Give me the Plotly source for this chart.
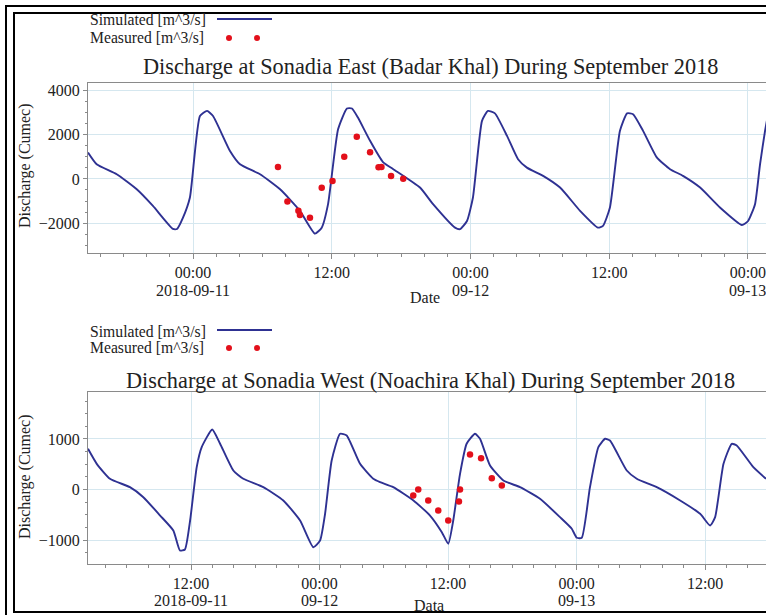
import plotly.graph_objects as go

# ---------------- data ----------------
top_sim_time = [
    "2018-09-10 14:55", "2018-09-10 15:40", "2018-09-10 17:24", "2018-09-10 19:08",
    "2018-09-10 20:32", "2018-09-10 22:16", "2018-09-10 22:37", "2018-09-10 23:08",
    "2018-09-10 23:44", "2018-09-11 00:36", "2018-09-11 01:13", "2018-09-11 01:44",
    "2018-09-11 03:12", "2018-09-11 04:04", "2018-09-11 05:48", "2018-09-11 07:32",
    "2018-09-11 09:15", "2018-09-11 10:33", "2018-09-11 11:08", "2018-09-11 11:41",
    "2018-09-11 12:33", "2018-09-11 13:19", "2018-09-11 13:45", "2018-09-11 14:16",
    "2018-09-11 15:19", "2018-09-11 16:26", "2018-09-11 17:18", "2018-09-11 19:38",
    "2018-09-11 20:46", "2018-09-11 22:40", "2018-09-11 23:06", "2018-09-11 23:42",
    "2018-09-12 00:13", "2018-09-12 01:00", "2018-09-12 01:31", "2018-09-12 02:07",
    "2018-09-12 03:10", "2018-09-12 04:07", "2018-09-12 04:53", "2018-09-12 06:17",
    "2018-09-12 07:45", "2018-09-12 09:29", "2018-09-12 11:02", "2018-09-12 11:28",
    "2018-09-12 12:04", "2018-09-12 12:56", "2018-09-12 13:33", "2018-09-12 14:04",
    "2018-09-12 14:56", "2018-09-12 16:08", "2018-09-12 17:16", "2018-09-12 18:23",
    "2018-09-12 19:52", "2018-09-12 21:35", "2018-09-12 23:29", "2018-09-13 00:01",
    "2018-09-13 00:37", "2018-09-13 01:03", "2018-09-13 01:29", "2018-09-13 01:40",
]
top_sim_q = [
    1190, 660, 210, -470,
    -1220, -2260, -2260, -1750,
    -840, 2840, 3070, 2840,
    1260, 660, 210, -470,
    -1440, -2470, -2200, -1140,
    2240, 3180, 3180, 2770,
    1720, 760, 450, -390,
    -1140, -2200, -2270, -1900,
    -840, 2620, 3070, 2960,
    1940, 890, 510, 140,
    -390, -1440, -2200, -2120,
    -1290, 2170, 2960, 2920,
    2170, 960, 440, 140,
    -390, -1290, -2080, -1900,
    -1140, 660, 2170, 2700,
]
top_meas_time = [
    "2018-09-11 07:21", "2018-09-11 08:10", "2018-09-11 09:07", "2018-09-11 09:15",
    "2018-09-11 10:07", "2018-09-11 11:08", "2018-09-11 12:04", "2018-09-11 13:05",
    "2018-09-11 14:10", "2018-09-11 15:19", "2018-09-11 16:03", "2018-09-11 16:18",
    "2018-09-11 17:08", "2018-09-11 18:11",
]
top_meas_q = [540, -1020, -1440, -1630, -1750, -400, -100, 1000, 1900, 1200, 530, 540, 130, 10]

bot_sim_time = [
    "2018-09-11 02:23", "2018-09-11 03:12", "2018-09-11 04:26", "2018-09-11 06:18",
    "2018-09-11 07:33", "2018-09-11 09:07", "2018-09-11 10:21", "2018-09-11 10:58",
    "2018-09-11 11:26", "2018-09-11 11:55", "2018-09-11 12:32", "2018-09-11 13:00",
    "2018-09-11 13:59", "2018-09-11 14:43", "2018-09-11 15:57", "2018-09-11 16:53",
    "2018-09-11 18:45", "2018-09-11 20:37", "2018-09-11 22:11", "2018-09-11 23:25",
    "2018-09-12 00:03", "2018-09-12 00:31", "2018-09-12 01:08", "2018-09-12 01:55",
    "2018-09-12 02:32", "2018-09-12 03:47", "2018-09-12 05:01", "2018-09-12 05:39",
    "2018-09-12 06:53", "2018-09-12 08:46", "2018-09-12 10:19", "2018-09-12 11:25",
    "2018-09-12 12:01", "2018-09-12 12:29", "2018-09-12 13:07", "2018-09-12 13:44",
    "2018-09-12 14:31", "2018-09-12 14:59", "2018-09-12 15:55", "2018-09-12 17:10",
    "2018-09-12 18:43", "2018-09-12 20:35", "2018-09-12 22:27", "2018-09-12 23:33",
    "2018-09-13 00:01", "2018-09-13 00:29", "2018-09-13 01:15", "2018-09-13 02:02",
    "2018-09-13 02:40", "2018-09-13 03:07", "2018-09-13 04:41", "2018-09-13 05:37",
    "2018-09-13 07:29", "2018-09-13 09:40", "2018-09-13 11:32", "2018-09-13 12:28",
    "2018-09-13 12:56", "2018-09-13 13:43", "2018-09-13 14:29", "2018-09-13 14:57",
    "2018-09-13 16:30", "2018-09-13 17:41",
]
bot_sim_q = [
    805, 508, 212, 46,
    -152, -515, -812, -1208,
    -1188, -614, 442, 838,
    1188, 905, 376, 212,
    46, -218, -614, -1143,
    -1010, -481, 574, 1103,
    1069, 508, 212, 145,
    46, -218, -515, -845,
    -1075, -614, 310, 905,
    1103, 1004, 475, 178,
    46, -184, -548, -778,
    -956, -956, 46, 838,
    1004, 970, 376, 212,
    46, -218, -481, -713,
    -548, 508, 905, 871,
    442, 212,
]
bot_meas_time = [
    "2018-09-12 08:45", "2018-09-12 09:13", "2018-09-12 10:09", "2018-09-12 11:05",
    "2018-09-12 12:01", "2018-09-12 13:01", "2018-09-12 13:07", "2018-09-12 14:03",
    "2018-09-12 15:05", "2018-09-12 16:05", "2018-09-12 17:01",
]
bot_meas_q = [-119, 0, -218, -416, -614, -238, 0, 693, 620, 224, 79]

top_tickvals = ["2018-09-11 00:00", "2018-09-11 12:00", "2018-09-12 00:00",
                "2018-09-12 12:00", "2018-09-13 00:00"]
top_ticktext = ["00:00", "12:00", "00:00", "12:00", "00:00"]
top_datevals = ["2018-09-11 00:00", "2018-09-12 00:00", "2018-09-13 00:00"]
top_datetext = ["2018-09-11", "09-12", "09-13"]
bot_tickvals = ["2018-09-11 12:00", "2018-09-12 00:00", "2018-09-12 12:00",
                "2018-09-13 00:00", "2018-09-13 12:00"]
bot_ticktext = ["12:00", "00:00", "12:00", "00:00", "12:00"]
bot_datevals = ["2018-09-11 12:00", "2018-09-12 00:00", "2018-09-13 00:00"]
bot_datetext = ["2018-09-11", "09-12", "09-13"]

top_title = "Discharge at Sonadia East (Badar Khal) During September 2018"
bot_title = "Discharge at Sonadia West (Noachira Khal) During September 2018"
sim_label = "Simulated [m^3/s]"
meas_label = "Measured [m^3/s]"
y_label = "Discharge (Cumec)"

# ---------------- styling ----------------
W, H = 766, 615
FONT = "Liberation Serif, Times New Roman, serif"
LINE_COLOR = "#2e3192"
DOT_COLOR = "#e3101b"
GRID = "#d5e7ef"
AXIS = "#8a8a8a"
TXT = "#222222"


def px(x):
    return x / W


def py(y):
    return (H - y) / H


fig = go.Figure()
line_style = dict(color=LINE_COLOR, width=1.9, shape="spline", smoothing=0.5)
fig.add_trace(go.Scatter(x=top_sim_time, y=top_sim_q, mode="lines", name=sim_label,
                         line=line_style, xaxis="x", yaxis="y", showlegend=False))
fig.add_trace(go.Scatter(x=top_meas_time, y=top_meas_q, mode="markers", name=meas_label,
                         marker=dict(color=DOT_COLOR, size=6.5), xaxis="x", yaxis="y",
                         showlegend=False))
fig.add_trace(go.Scatter(x=bot_sim_time, y=bot_sim_q, mode="lines", name=sim_label,
                         line=line_style, xaxis="x2", yaxis="y2", showlegend=False))
fig.add_trace(go.Scatter(x=bot_meas_time, y=bot_meas_q, mode="markers", name=meas_label,
                         marker=dict(color=DOT_COLOR, size=6.5), xaxis="x2", yaxis="y2",
                         showlegend=False))

xcommon = dict(type="date", showgrid=True, gridcolor=GRID, gridwidth=1,
               showline=True, linecolor=AXIS, linewidth=1.2, mirror=True,
               ticks="outside", ticklen=5, tickcolor=AXIS, zeroline=False,
               ticklabeloverflow="allow",
               tickfont=dict(family=FONT, size=16, color=TXT),
               minor=dict(dtick=7200000, tick0="2018-09-11 00:00", ticks="outside",
                          ticklen=3, tickcolor=AXIS, showgrid=False))
ycommon = dict(showgrid=True, gridcolor=GRID, gridwidth=1, zeroline=False,
               showline=True, linecolor=AXIS, linewidth=1.2, mirror=False,
               ticks="outside", ticklen=4, tickcolor=AXIS,
               tickfont=dict(family=FONT, size=16, color=TXT))

fig.update_layout(
    width=W, height=H,
    margin=dict(l=0, r=0, t=0, b=0),
    paper_bgcolor="white", plot_bgcolor="white",
    font=dict(family=FONT, color=TXT),
    xaxis=dict(xcommon, domain=[px(88), 1], anchor="y",
               range=["2018-09-10 14:55", "2018-09-13 01:34"],
               tickmode="array", tickvals=top_tickvals, ticktext=top_ticktext),
    yaxis=dict(ycommon, domain=[py(253), py(83)], anchor="x",
               range=[-3345, 4330], tickmode="linear", tick0=0, dtick=2000,
               minor=dict(dtick=500, ticks="outside", ticklen=2, tickcolor=AXIS, showgrid=False)),
    xaxis2=dict(xcommon, domain=[px(88), 1], anchor="y2",
                range=["2018-09-11 02:23", "2018-09-13 17:41"],
                tickmode="array", tickvals=bot_tickvals, ticktext=bot_ticktext),
    yaxis2=dict(ycommon, domain=[py(564), py(392)], anchor="x2",
                range=[-1475, 1930], tickmode="linear", tick0=0, dtick=1000,
                minor=dict(dtick=250, ticks="outside", ticklen=2, tickcolor=AXIS, showgrid=False)),
)

ann = []
# titles
ann.append(dict(text=top_title, x=px(430), y=py(67), xref="paper", yref="paper",
                showarrow=False, xanchor="center", yanchor="middle",
                font=dict(family=FONT, size=22.3, color=TXT)))
ann.append(dict(text=bot_title, x=px(430), y=py(380), xref="paper", yref="paper",
                showarrow=False, xanchor="center", yanchor="middle",
                font=dict(family=FONT, size=22.3, color=TXT)))
# date line under the time ticks
for xr, vals, texts, yline in (("x", top_datevals, top_datetext, 290),
                               ("x2", bot_datevals, bot_datetext, 600)):
    for v, t in zip(vals, texts):
        ann.append(dict(text=t, x=v, y=py(yline), xref=xr, yref="paper",
                        showarrow=False, xanchor="center", yanchor="middle",
                        font=dict(family=FONT, size=16, color=TXT)))
# axis titles
for yc in (166, 477):
    ann.append(dict(text=y_label, x=px(25), y=py(yc), xref="paper", yref="paper",
                    showarrow=False, textangle=-90, xanchor="center", yanchor="middle",
                    font=dict(family=FONT, size=16, color=TXT)))
ann.append(dict(text="Date", x=px(425), y=py(298), xref="paper", yref="paper",
                showarrow=False, xanchor="center", yanchor="middle",
                font=dict(family=FONT, size=16, color=TXT)))
ann.append(dict(text="Data", x=px(429), y=py(605), xref="paper", yref="paper",
                showarrow=False, xanchor="center", yanchor="middle",
                font=dict(family=FONT, size=16, color=TXT)))
# legends (text left of the sample, as in the source)
shapes = []
for (ys, ym) in ((20, 37), (331, 347)):
    ann.append(dict(text=sim_label, x=px(88), y=py(ys), xref="paper", yref="paper",
                    showarrow=False, xanchor="left", yanchor="middle",
                    font=dict(family=FONT, size=15.7, color=TXT)))
    ann.append(dict(text=meas_label, x=px(88), y=py(ym), xref="paper", yref="paper",
                    showarrow=False, xanchor="left", yanchor="middle",
                    font=dict(family=FONT, size=15.7, color=TXT)))
    shapes.append(dict(type="line", xref="paper", yref="paper",
                       x0=px(217), x1=px(272), y0=py(ys - 1), y1=py(ys - 1),
                       line=dict(color=LINE_COLOR, width=1.8)))
    for xd in (229, 257):
        shapes.append(dict(type="circle", xref="paper", yref="paper",
                           x0=px(xd - 3), x1=px(xd + 3), y0=py(ym + 1 - 3), y1=py(ym + 1 + 3),
                           fillcolor=DOT_COLOR, line=dict(width=0)))
# double frame
shapes.append(dict(type="rect", xref="paper", yref="paper",
                   x0=px(6), x1=px(800), y0=py(640), y1=py(6),
                   line=dict(color="black", width=2)))
shapes.append(dict(type="rect", xref="paper", yref="paper",
                   x0=px(14), x1=px(800), y0=py(612), y1=py(13),
                   line=dict(color="black", width=2)))

fig.update_layout(annotations=ann, shapes=shapes)
fig.write_html("out.html")
